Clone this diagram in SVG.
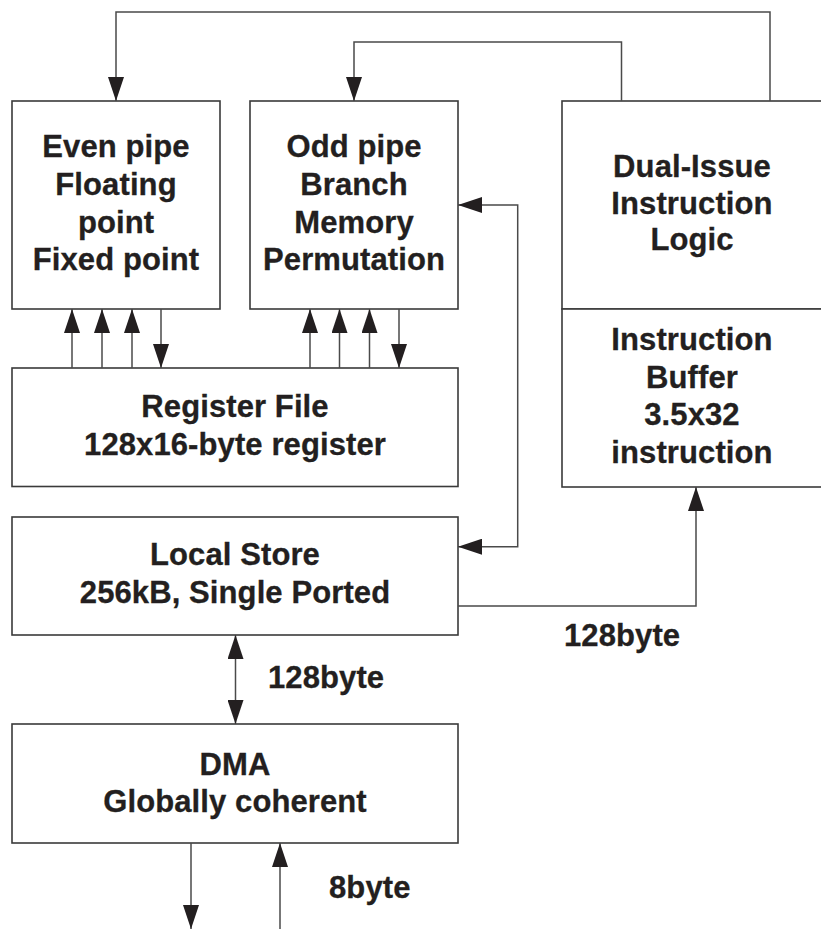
<svg xmlns="http://www.w3.org/2000/svg" width="821" height="929" viewBox="0 0 821 929">
  <style>
    .box { fill: #ffffff; stroke: #3a3a3a; stroke-width: 1.6; }
    .wire { fill: none; stroke: #4a4a4a; stroke-width: 1.5; }
    .lbl { font-family: "Liberation Sans", Arial, Helvetica, sans-serif; font-weight: bold; font-size: 31px; letter-spacing: 0.1px; fill: #231f20; stroke: #231f20; stroke-width: 0.3; }
    .mid { text-anchor: middle; }
  </style>
  <defs>
    <marker id="head" markerUnits="userSpaceOnUse" markerWidth="24" markerHeight="16" viewBox="0 0 24 16" refX="24" refY="8" orient="auto-start-reverse">
      <path d="M0,0 L24,8 L0,16 z" fill="#231f20"/>
    </marker>
  </defs>
  <rect width="821" height="929" fill="#ffffff"/>

  <g id="even-pipe">
    <rect class="box" x="12" y="101" width="208" height="208"/>
    <text class="lbl mid" x="116" y="157">Even pipe</text>
    <text class="lbl mid" x="116" y="194.5">Floating</text>
    <text class="lbl mid" x="116" y="232.5">point</text>
    <text class="lbl mid" x="116" y="270">Fixed point</text>
  </g>

  <g id="odd-pipe">
    <rect class="box" x="250" y="101" width="208" height="208"/>
    <text class="lbl mid" x="354" y="157">Odd pipe</text>
    <text class="lbl mid" x="354" y="194.5">Branch</text>
    <text class="lbl mid" x="354" y="232.5">Memory</text>
    <text class="lbl mid" x="354" y="270">Permutation</text>
  </g>

  <g id="issue-logic">
    <rect class="box" x="562" y="101" width="262" height="208"/>
    <text class="lbl mid" x="692" y="176.7">Dual-Issue</text>
    <text class="lbl mid" x="692" y="213.5">Instruction</text>
    <text class="lbl mid" x="692" y="250">Logic</text>
  </g>

  <g id="instruction-buffer">
    <rect class="box" x="562" y="309" width="262" height="178"/>
    <text class="lbl mid" x="692" y="350">Instruction</text>
    <text class="lbl mid" x="692" y="388">Buffer</text>
    <text class="lbl mid" x="692" y="425">3.5x32</text>
    <text class="lbl mid" x="692" y="463">instruction</text>
  </g>

  <g id="register-file">
    <rect class="box" x="12" y="368" width="446" height="118.5"/>
    <text class="lbl mid" x="235" y="417">Register File</text>
    <text class="lbl mid" x="235" y="454.5">128x16-byte register</text>
  </g>

  <g id="local-store">
    <rect class="box" x="12" y="517" width="446" height="118"/>
    <text class="lbl mid" x="235" y="565">Local Store</text>
    <text class="lbl mid" x="235" y="603">256kB, Single Ported</text>
  </g>

  <g id="dma">
    <rect class="box" x="12" y="724" width="446" height="119"/>
    <text class="lbl mid" x="235" y="775">DMA</text>
    <text class="lbl mid" x="235" y="812">Globally coherent</text>
  </g>

  <g id="connectors">
    <!-- issue logic to the two pipes -->
    <path class="wire" d="M770,101 V12 H116 V101" marker-end="url(#head)"/>
    <path class="wire" d="M621.5,101 V42 H354 V101" marker-end="url(#head)"/>

    <!-- register file <-> even pipe -->
    <path class="wire" d="M72,368 V309" marker-end="url(#head)"/>
    <path class="wire" d="M102,368 V309" marker-end="url(#head)"/>
    <path class="wire" d="M132,368 V309" marker-end="url(#head)"/>
    <path class="wire" d="M161,309 V368" marker-end="url(#head)"/>

    <!-- register file <-> odd pipe -->
    <path class="wire" d="M310,368 V309" marker-end="url(#head)"/>
    <path class="wire" d="M339.5,368 V309" marker-end="url(#head)"/>
    <path class="wire" d="M369.5,368 V309" marker-end="url(#head)"/>
    <path class="wire" d="M399,309 V368" marker-end="url(#head)"/>

    <!-- odd pipe <-> local store -->
    <path class="wire" d="M458,546.7 H517.7 V205 H458" marker-start="url(#head)" marker-end="url(#head)"/>

    <!-- local store to instruction buffer -->
    <path class="wire" d="M458,606 H696 V487" marker-end="url(#head)"/>

    <!-- local store <-> DMA -->
    <path class="wire" d="M235.5,635 V724" marker-start="url(#head)" marker-end="url(#head)"/>

    <!-- DMA external ports -->
    <path class="wire" d="M191,843 V929" marker-end="url(#head)"/>
    <path class="wire" d="M280,929 V843" marker-end="url(#head)"/>
  </g>

  <g id="bus-labels">
    <text class="lbl" x="564" y="646">128byte</text>
    <text class="lbl" x="268" y="688">128byte</text>
    <text class="lbl" x="329" y="898">8byte</text>
  </g>
</svg>
